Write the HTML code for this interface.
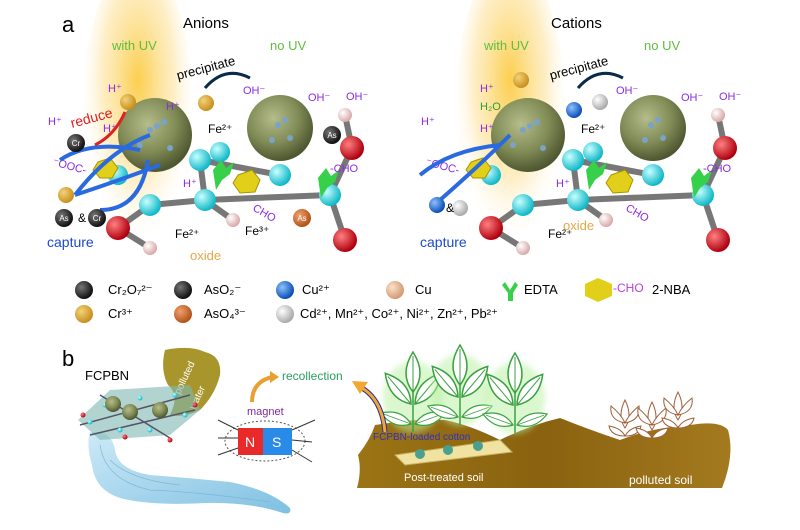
<!DOCTYPE html>
<html><head><meta charset="utf-8"><style>
html,body{margin:0;padding:0;background:#fff;}
svg{display:block;font-family:"Liberation Sans",Arial,sans-serif;}
</style></head><body>
<svg width="800" height="530" viewBox="0 0 800 530" xmlns="http://www.w3.org/2000/svg">
<defs>
<radialGradient id="big" cx="40%" cy="35%" r="65%"><stop offset="0" stop-color="#b5bd8a"/><stop offset="0.6" stop-color="#7f8a55"/><stop offset="1" stop-color="#4f5730"/></radialGradient>
<radialGradient id="cy" cx="35%" cy="35%" r="65%"><stop offset="0" stop-color="#c8ffff"/><stop offset="1" stop-color="#11b8c8"/></radialGradient>
<radialGradient id="rd" cx="35%" cy="35%" r="65%"><stop offset="0" stop-color="#ff8080"/><stop offset="1" stop-color="#b00010"/></radialGradient>
<radialGradient id="pk" cx="35%" cy="35%" r="65%"><stop offset="0" stop-color="#fff"/><stop offset="1" stop-color="#d9a9a9"/></radialGradient>
<radialGradient id="cr" cx="35%" cy="35%" r="65%"><stop offset="0" stop-color="#f3d27a"/><stop offset="1" stop-color="#c8901e"/></radialGradient>
<radialGradient id="bk" cx="35%" cy="35%" r="65%"><stop offset="0" stop-color="#777"/><stop offset="1" stop-color="#111"/></radialGradient>
<radialGradient id="as" cx="35%" cy="35%" r="65%"><stop offset="0" stop-color="#f2a070"/><stop offset="1" stop-color="#b05418"/></radialGradient>
<radialGradient id="bl" cx="35%" cy="35%" r="65%"><stop offset="0" stop-color="#8ec0ff"/><stop offset="1" stop-color="#0b4fb5"/></radialGradient>
<radialGradient id="cu" cx="35%" cy="35%" r="65%"><stop offset="0" stop-color="#fbe1cc"/><stop offset="1" stop-color="#d39a72"/></radialGradient>
<radialGradient id="wh" cx="35%" cy="35%" r="65%"><stop offset="0" stop-color="#fff"/><stop offset="1" stop-color="#aaa"/></radialGradient>
<radialGradient id="uv" cx="50%" cy="40%" r="55%"><stop offset="0" stop-color="#fbc93a" stop-opacity="0.9"/><stop offset="0.6" stop-color="#fde3a0" stop-opacity="0.6"/><stop offset="1" stop-color="#fff" stop-opacity="0"/></radialGradient>
<linearGradient id="soil" x1="0" y1="0" x2="1" y2="0"><stop offset="0" stop-color="#9b7414"/><stop offset="0.5" stop-color="#8a6210"/><stop offset="1" stop-color="#a37a1e"/></linearGradient>
<linearGradient id="water" x1="0" y1="0" x2="1" y2="1"><stop offset="0" stop-color="#cdeaf7"/><stop offset="1" stop-color="#7fc0e2"/></linearGradient>
<filter id="glow"><feGaussianBlur stdDeviation="3"/></filter>
<g id="mol">
 <g stroke="#777" stroke-width="6" stroke-linecap="round">
  <line x1="118" y1="228" x2="150" y2="205"/><line x1="118" y1="228" x2="150" y2="248"/>
  <line x1="150" y1="205" x2="205" y2="200"/><line x1="205" y1="200" x2="233" y2="220"/>
  <line x1="205" y1="200" x2="200" y2="160"/><line x1="200" y1="160" x2="280" y2="175"/>
  <line x1="205" y1="200" x2="330" y2="195"/><line x1="330" y1="195" x2="352" y2="148"/>
  <line x1="352" y1="148" x2="345" y2="115"/><line x1="330" y1="195" x2="345" y2="240"/>
 </g>
 <circle cx="150" cy="205" r="11" fill="url(#cy)"/><circle cx="200" cy="160" r="11" fill="url(#cy)"/>
 <circle cx="220" cy="152" r="10" fill="url(#cy)"/><circle cx="205" cy="200" r="11" fill="url(#cy)"/>
 <circle cx="280" cy="175" r="11" fill="url(#cy)"/><circle cx="330" cy="195" r="11" fill="url(#cy)"/>
 <circle cx="118" cy="175" r="10" fill="url(#cy)"/>
 <circle cx="118" cy="228" r="12" fill="url(#rd)"/><circle cx="352" cy="148" r="12" fill="url(#rd)"/><circle cx="345" cy="240" r="12" fill="url(#rd)"/>
 <circle cx="150" cy="248" r="7" fill="url(#pk)"/><circle cx="233" cy="220" r="7" fill="url(#pk)"/><circle cx="345" cy="115" r="7" fill="url(#pk)"/>
 <polygon points="238,175 252,170 260,180 255,192 240,193 233,183" fill="#e2cf1a" stroke="#a89400"/>
 <polygon points="98,162 110,158 118,168 112,178 100,178 93,170" fill="#e2cf1a" stroke="#a89400"/>
 <path d="M213,170 l8,-10 l5,8 l8,-6 l-4,12 l-8,6 l-6,10z" fill="#37d04a"/>
 <path d="M318,178 l8,-10 l5,8 l8,-6 l-4,12 l-8,6 l-6,10z" fill="#37d04a"/>
 <circle cx="155" cy="135" r="37" fill="url(#big)"/><circle cx="280" cy="128" r="33" fill="url(#big)"/>
 <g fill="#7aa3c8"><circle cx="150" cy="130" r="3"/><circle cx="157" cy="126" r="3"/><circle cx="164" cy="122" r="3"/><circle cx="140" cy="145" r="3"/><circle cx="170" cy="148" r="3"/><circle cx="278" cy="125" r="3"/><circle cx="285" cy="120" r="3"/><circle cx="272" cy="140" r="3"/><circle cx="290" cy="138" r="3"/></g>
</g>
<g id="leaf"><path d="M0,0 Q-14,-18 0,-40 Q14,-18 0,0z" fill="#fff" stroke="#3aa040" stroke-width="1.5"/><line x1="0" y1="0" x2="0" y2="-36" stroke="#3aa040"/></g>
<g id="plant">
 <g filter="url(#glow)" opacity="0.5"><ellipse cx="0" cy="-35" rx="30" ry="36" fill="#b8f0a0"/></g>
 <line x1="0" y1="0" x2="0" y2="-60" stroke="#3aa040" stroke-width="1.5"/>
 <use href="#leaf" transform="translate(0,-40)"/>
 <use href="#leaf" transform="translate(-2,-28) rotate(-40)"/>
 <use href="#leaf" transform="translate(2,-28) rotate(40)"/>
 <use href="#leaf" transform="translate(-2,-8) rotate(-70) scale(0.8)"/>
 <use href="#leaf" transform="translate(2,-8) rotate(70) scale(0.8)"/>
</g>
<g id="bplant" fill="#fff" stroke="#a0603a">
 <path d="M0,0 Q-8,-12 0,-28 Q8,-12 0,0z"/><path d="M0,-5 Q-16,-8 -14,-22 Q-4,-14 0,-5z"/><path d="M0,-5 Q16,-8 14,-22 Q4,-14 0,-5z"/><path d="M0,8 Q-14,8 -16,-2 Q-4,0 0,8z"/><path d="M0,8 Q14,8 16,-2 Q4,0 0,8z"/>
</g>
</defs>
<rect width="800" height="530" fill="#fff"/>
<ellipse cx="138" cy="110" rx="55" ry="150" fill="url(#uv)"/>
<ellipse cx="510" cy="110" rx="55" ry="150" fill="url(#uv)"/>
<text x="62" y="32" font-size="22">a</text>
<text x="183" y="28" font-size="15">Anions</text>
<text x="551" y="28" font-size="15">Cations</text>
<text x="112" y="50" font-size="13" fill="#5cbf3c">with UV</text>
<text x="270" y="50" font-size="13" fill="#5cbf3c">no UV</text>
<text x="484" y="50" font-size="13" fill="#5cbf3c">with UV</text>
<text x="644" y="50" font-size="13" fill="#5cbf3c">no UV</text>
<use href="#mol"/>
<use href="#mol" transform="translate(373,0)"/>
<text x="178" y="80" font-size="13" transform="rotate(-15 178 80)">precipitate</text>
<text x="551" y="80" font-size="13" transform="rotate(-15 551 80)">precipitate</text>
<path d="M205,88 Q225,65 250,78" fill="none" stroke="#0a2a4a" stroke-width="3"/>
<path d="M578,88 Q598,65 623,78" fill="none" stroke="#0a2a4a" stroke-width="3"/>
<g font-size="11" fill="#8a2be2">
<text x="108" y="92">H⁺</text><text x="48" y="125">H⁺</text><text x="103" y="132">H⁺</text><text x="166" y="110">H⁺</text><text x="243" y="94">OH⁻</text><text x="308" y="101">OH⁻</text><text x="346" y="100">OH⁻</text><text x="183" y="187">H⁺</text>
<text x="52" y="165" transform="rotate(15 52 165)">⁻OOC-</text><text x="252" y="210" transform="rotate(30 252 210)">CHO</text><text x="330" y="172">-CHO</text>
<text x="480" y="92">H⁺</text><text x="421" y="125">H⁺</text><text x="480" y="132">H⁺</text><text x="616" y="94">OH⁻</text><text x="681" y="101">OH⁻</text><text x="719" y="100">OH⁻</text><text x="556" y="187">H⁺</text>
<text x="425" y="165" transform="rotate(15 425 165)">⁻OOC-</text><text x="625" y="210" transform="rotate(30 625 210)">CHO</text><text x="703" y="172">-CHO</text>
</g>
<text x="72" y="128" font-size="14" fill="#e02020" transform="rotate(-15 72 128)">reduce</text>
<text x="480" y="110" font-size="11" fill="#2aa02a">H₂O</text>
<g font-size="12"><text x="208" y="133">Fe²⁺</text><text x="175" y="238">Fe²⁺</text><text x="245" y="235">Fe³⁺</text><text x="581" y="133">Fe²⁺</text><text x="548" y="238">Fe²⁺</text></g>
<text x="190" y="260" font-size="13" fill="#e2a84a">oxide</text><text x="563" y="230" font-size="13" fill="#e2a84a">oxide</text>
<text x="47" y="247" font-size="14" fill="#1a4ad0">capture</text><text x="420" y="247" font-size="14" fill="#1a4ad0">capture</text>
<path d="M60,160 Q90,140 140,150 M75,195 Q110,150 150,135 M75,195 Q120,180 160,165 M100,210 Q140,210 148,160" fill="none" stroke="#2a6ae0" stroke-width="4"/>
<path d="M420,175 Q450,150 500,145 M440,200 Q480,165 510,135" fill="none" stroke="#2a6ae0" stroke-width="4"/>
<path d="M95,145 Q115,135 125,112" fill="none" stroke="#e02020" stroke-width="3"/>
<g font-size="8" fill="#fff" text-anchor="middle">
<circle cx="128" cy="102" r="8" fill="url(#cr)"/><circle cx="206" cy="103" r="8" fill="url(#cr)"/><circle cx="66" cy="195" r="8" fill="url(#cr)"/>
<circle cx="76" cy="143" r="9" fill="url(#bk)"/><text x="76" y="146">Cr</text>
<circle cx="64" cy="218" r="9" fill="url(#bk)"/><text x="64" y="221">As</text><circle cx="97" cy="218" r="9" fill="url(#bk)"/><text x="97" y="221">Cr</text>
<circle cx="332" cy="135" r="9" fill="url(#bk)"/><text x="332" y="138">As</text>
<circle cx="302" cy="218" r="9" fill="url(#as)"/><text x="302" y="221">As</text>
<circle cx="521" cy="80" r="8" fill="url(#cr)"/><circle cx="574" cy="110" r="8" fill="url(#bl)"/><circle cx="600" cy="102" r="8" fill="url(#wh)"/>
<circle cx="437" cy="205" r="8" fill="url(#bl)"/><circle cx="460" cy="208" r="8" fill="url(#wh)"/>
</g>
<text x="78" y="222" font-size="12">&amp;</text><text x="446" y="212" font-size="12">&amp;</text>
<g font-size="13">
<circle cx="84" cy="290" r="9" fill="url(#bk)"/><text x="108" y="294">Cr₂O₇²⁻</text>
<circle cx="183" cy="290" r="9" fill="url(#bk)"/><text x="204" y="294">AsO₂⁻</text>
<circle cx="285" cy="290" r="9" fill="url(#bl)"/><text x="302" y="294">Cu²⁺</text>
<circle cx="395" cy="290" r="9" fill="url(#cu)"/><text x="415" y="294">Cu</text>
<path d="M505,282 l5,8 l5,-8 l3,3 l-5,8 v8 h-5 v-8 l-6,-8z" fill="#37d04a"/><text x="524" y="294">EDTA</text>
<polygon points="585,284 598,278 612,284 612,296 598,302 585,296" fill="#e2cf1a"/><text x="613" y="292" fill="#c03ad8" font-size="12">-CHO</text><text x="652" y="294">2-NBA</text>
<circle cx="84" cy="314" r="9" fill="url(#cr)"/><text x="108" y="318">Cr³⁺</text>
<circle cx="183" cy="314" r="9" fill="url(#as)"/><text x="204" y="318">AsO₄³⁻</text>
<circle cx="285" cy="314" r="9" fill="url(#wh)"/><text x="300" y="318">Cd²⁺, Mn²⁺, Co²⁺, Ni²⁺, Zn²⁺, Pb²⁺</text>
</g>
<!-- part b -->
<text x="62" y="366" font-size="22">b</text>
<text x="85" y="380" font-size="13">FCPBN</text>
<path d="M165,350 Q190,345 205,352 Q222,356 220,375 Q215,395 200,410 Q185,418 170,415 Q180,395 168,385 Q160,370 165,350z" fill="#a8962c"/>
<text x="180" y="395" font-size="10" fill="#fff" transform="rotate(-65 180 395)">polluted</text>
<text x="195" y="410" font-size="10" fill="#fff" transform="rotate(-65 195 410)">water</text>
<path d="M90,432 Q112,430 115,450 Q118,470 150,475 Q190,478 230,482 Q270,490 290,508 Q292,515 283,513 Q250,502 205,503 Q150,506 120,498 Q95,490 92,465 Q86,445 90,432z" fill="url(#water)"/>
<g stroke="#7ab0d0" stroke-width="0.8" fill="none" opacity="0.8"><path d="M100,445 Q105,480 150,490 Q200,492 270,502"/><path d="M110,460 Q130,480 180,485"/></g>
<path d="M78,420 L110,390 L190,385 L200,410 L170,435 L100,440z" fill="#7fb8b0" opacity="0.6"/>
<g stroke="#556" stroke-width="1.5" fill="none"><path d="M80,425 L190,395 M90,435 L195,410 M100,395 L170,438"/></g>
<g fill="url(#cy)"><circle cx="90" cy="422" r="2.5"/><circle cx="105" cy="405" r="2.5"/><circle cx="140" cy="398" r="2.5"/><circle cx="175" cy="395" r="2.5"/><circle cx="185" cy="415" r="2.5"/><circle cx="150" cy="430" r="2.5"/><circle cx="120" cy="430" r="2.5"/></g>
<g fill="url(#rd)"><circle cx="83" cy="415" r="2.5"/><circle cx="125" cy="437" r="2.5"/><circle cx="170" cy="440" r="2.5"/><circle cx="195" cy="405" r="2.5"/></g>
<circle cx="113" cy="404" r="8" fill="url(#big)"/><circle cx="130" cy="412" r="8" fill="url(#big)"/><circle cx="160" cy="410" r="8" fill="url(#big)"/>
<text x="247" y="415" font-size="11" fill="#7a2aa0">magnet</text>
<ellipse cx="265" cy="441" rx="40" ry="20" fill="none" stroke="#555" stroke-dasharray="2,2"/>
<g stroke="#333"><line x1="218" y1="420" x2="238" y2="430"/><line x1="218" y1="438" x2="238" y2="438"/><line x1="218" y1="455" x2="238" y2="448"/><line x1="292" y1="430" x2="315" y2="420"/><line x1="292" y1="440" x2="312" y2="442"/><line x1="292" y1="450" x2="312" y2="462"/></g>
<rect x="238" y="428" width="25" height="27" fill="#e82a2a"/><rect x="263" y="428" width="29" height="27" fill="#2a8ae8"/>
<text x="245" y="447" font-size="14" fill="#fff">N</text><text x="272" y="447" font-size="14" fill="#fff">S</text>
<path d="M252,402 Q252,382 272,377" fill="none" stroke="#e8a030" stroke-width="4"/><polygon points="270,371 279,377 270,383" fill="#e8a030"/>
<text x="282" y="380" font-size="12" fill="#2aa060">recollection</text>
<path d="M357,488 Q362,470 358,455 Q370,440 375,425 Q420,418 445,420 Q470,425 500,440 Q530,425 560,418 Q590,430 620,440 Q650,428 690,425 Q720,420 728,430 Q735,455 722,488z" fill="url(#soil)"/>
<polygon points="395,455 500,440 512,452 405,465" fill="#f0e2a0" stroke="#c8b060"/>
<g fill="#4aa090"><circle cx="420" cy="454" r="5"/><circle cx="448" cy="450" r="5"/><circle cx="478" cy="446" r="5"/></g>
<use href="#plant" transform="translate(413,432)"/>
<use href="#plant" transform="translate(460,425)"/>
<use href="#plant" transform="translate(515,433)"/>
<use href="#bplant" transform="translate(625,428)"/>
<use href="#bplant" transform="translate(652,430)"/>
<use href="#bplant" transform="translate(678,420)"/>
<path d="M385,432 Q382,400 362,388" fill="none" stroke="#2a2aa0" stroke-width="5"/>
<path d="M385,432 Q382,400 362,388" fill="none" stroke="#f0a830" stroke-width="3"/>
<polygon points="352,381 368,382 360,394" fill="#f0a830"/>
<text x="373" y="440" font-size="10" fill="#3030c0">FCPBN-loaded cotton</text>
<text x="404" y="481" font-size="11" fill="#fff">Post-treated soil</text>
<text x="629" y="484" font-size="12" fill="#fff">polluted soil</text>
</svg>
</body></html>
